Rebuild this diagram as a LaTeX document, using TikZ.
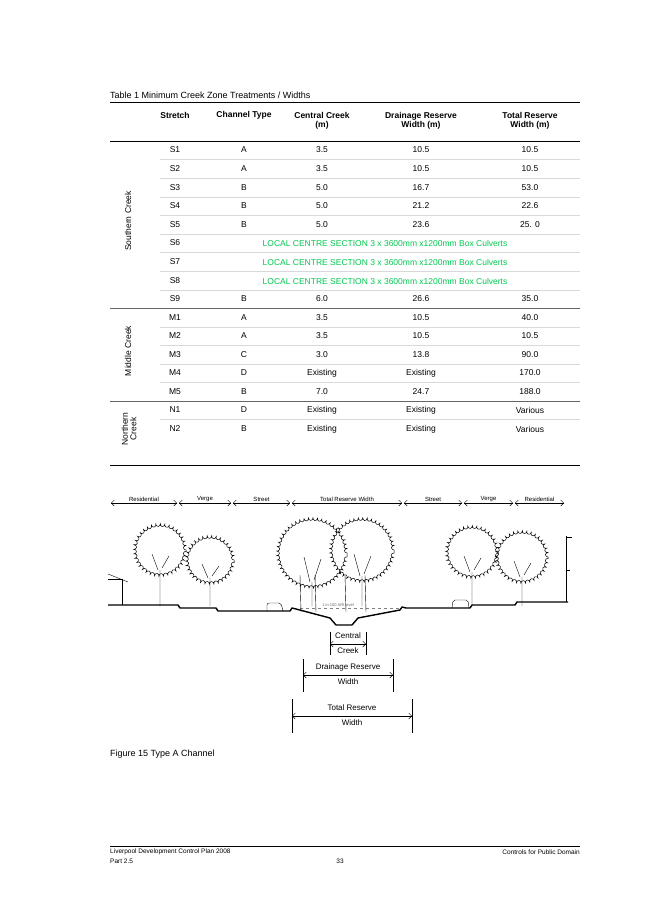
\documentclass[tikz,border=0pt]{standalone}
\usepackage{fontspec}
\setmainfont{Liberation Sans}
\usetikzlibrary{arrows.meta,decorations.pathmorphing,backgrounds}
\definecolor{culvert}{RGB}{0,200,80}
\tikzset{
  cell/.style={font=\fontsize{8.5}{9.5}\selectfont, inner sep=0pt},
  head/.style={font=\bfseries\fontsize{8.5}{9.5}\selectfont, align=center, inner sep=0pt},
  dim/.style={{Straight Barb[length=3pt]}-{Straight Barb[length=3pt]}, thin},
  dimtext/.style={font=\fontsize{6}{7}\selectfont, inner sep=0pt},
  tree/.style={decorate, decoration={bumps, segment length=9pt, amplitude=2.5pt}, line width=0.5pt}
}
\begin{document}
\begin{tikzpicture}[x=1pt,y=-1pt]
    % white background
    \begin{scope}[on background layer]
        \fill [white] (0,0) rectangle (653,924);
    \end{scope}
    \useasboundingbox (0,0) rectangle (653,924);

    % caption and header
    \node[cell, anchor=west, font=\fontsize{9}{10}\selectfont] (cap) at (110,95) {Table 1 Minimum Creek Zone Treatments / Widths};
    \draw[thin] (110,102) -- (580,102);
    \node[head] (hs) at (175,115) {Stretch};
    \node[head] (hc) at (244,115) {Channel Type};
    \node[head] (hcc) at (322,121) {Central Creek\\(m)};
    \node[head] (hd) at (421,121) {Drainage Reserve\\Width (m)};
    \node[head] (ht) at (530,121) {Total Reserve\\Width (m)};
    \draw[thin] (110,141) -- (580,141);

    % rows
    \foreach \s/\c/\cc/\d/\t/\y in {S1/A/3.5/10.5/10.5/150, S2/A/3.5/10.5/10.5/169,
        S3/B/5.0/16.7/53.0/188, S4/B/5.0/21.2/22.6/206, S5/B/5.0/23.6/25. 0/225,
        S9/B/6.0/26.6/35.0/299, M1/A/3.5/10.5/40.0/318, M2/A/3.5/10.5/10.5/336,
        M3/C/3.0/13.8/90.0/355, M4/D/Existing/Existing/170.0/373, M5/B/7.0/24.7/188.0/392,
        N1/D/Existing/Existing/Various/410, N2/B/Existing/Existing/Various/429} {
        \node[cell] (r\s) at (175,\y) {\s};
        \node[cell] at (244,\y) {\c};
        \node[cell] at (322,\y) {\cc};
        \node[cell] at (421,\y) {\d};
        \node[cell] at (530,\y) {\t};
    }
    \foreach \s/\y in {S6/243, S7/262, S8/281} {
        \node[cell] (r\s) at (175,\y) {\s};
        \node[cell, text=culvert] at (385,\y) {LOCAL CENTRE SECTION 3 x 3600mm x1200mm Box Culverts};
    }

    % row rules
    \foreach \y in {159.5,178.5,197,215.5,234,252.5,271.5,290,327,345.5,364,382.5,419.5} {
        \draw[black!15, very thin] (160,\y) -- (580,\y);
    }
    \draw[black!60, thin] (110,308) -- (580,308);
    \draw[black!60, thin] (110,401) -- (580,401);
    \draw[thin] (110,465) -- (580,465);

    % group labels
    \node[cell, rotate=90] (gs) at (128,221) {Southern Creek};
    \node[cell, rotate=90] (gm) at (128,351) {Middle Creek};
    \node[cell, rotate=90, align=center, font=\fontsize{8.5}{8.5}\selectfont] (gn) at (129,429) {Northern\\Creek};

    % top dimensions
    \foreach \a/\b/\lab in {110/178/Residential, 178/232/Verge, 232/291/Street, 291/403/Total Reserve Width,
        403/463/Street, 463/514/Verge, 514/565/Residential} {
        \coordinate (da\a) at (\a+1,503);
        \coordinate (db\a) at (\b-1,503);
        \draw[dim] (da\a) -- (db\a);
        \node[dimtext, fill=white, inner xsep=1pt] at (\a/2+\b/2,499) {\lab};
    }

    % ground
    \draw[line width=1.4pt, line join=round] (108,605) -- (178,605) -- (180,608) -- (216,608) -- (218,611)
        -- (290,611) -- (292,608) -- (296,609) -- (330,618) -- (336,625) -- (352,625) -- (358,618)
        -- (400,610) -- (402,607) -- (406,608) -- (470,608) -- (472,605) -- (515,605) -- (517,602) -- (568,602);
    \draw[black!50, dashed, very thin] (300,608) -- (400,608);
    \node[font=\fontsize{4}{4}\selectfont, text=black!60] at (338,605) {1 in 100 ARI level};

    % houses
    \draw[line width=1pt] (122,605) -- (122,579) -- (108,579);
    \draw[thin] (108,574) -- (128,582);
    \draw[line width=1pt] (566,602) -- (566,536);
    \draw[line width=1pt] (566,570) -- (570,570) (566,537) -- (572,537);

    % trees
    \foreach \x/\y/\r in {160/550/26, 210/560/24, 312/553/35, 362/550/32, 472/552/26, 522/557/26} {
        \draw[tree] (\x+\r,\y) arc[start angle=0, end angle=-360, radius=\r];
        \draw[thin] (\x,\y+\r-6) -- (\x,606) (\x-2,\y+\r-6) -- (\x-8,\y+4) (\x+2,\y+\r-8) -- (\x+9,\y+6);
    }
    \foreach \x in {300,315,345,365} {
        \draw[thin] (\x,575) -- (\x+1,612);
    }

    % cars
    \draw[thin, rounded corners=2pt] (267,611) -- (267,603) -- (281,603) -- (283,611);
    \draw[thin, rounded corners=2pt] (452,608) -- (453,600) -- (468,600) -- (469,608);

    % bottom dimensions
    \foreach \n/\a/\b/\ya/\yb/\ym/\la/\lb in {cc/330/366/632/655/644/Central/Creek,
        dr/303/393/659/692/675/Drainage Reserve/Width, tr/292/412/699/733/716/Total Reserve/Width} {
        \coordinate (\n l) at (\a,\ym);
        \coordinate (\n r) at (\b,\ym);
        \draw[thin] (\a,\ya) -- (\a,\yb) (\b,\ya) -- (\b,\yb);
        \draw[dim] (\n l) -- (\n r);
        \node[cell, font=\fontsize{8}{9}\selectfont] at (\a/2+\b/2,\ym-8) {\la};
        \node[cell, font=\fontsize{8}{9}\selectfont] at (\a/2+\b/2,\ym+7) {\lb};
    }

    % figure caption and footer
    \node[cell, anchor=west, font=\fontsize{9}{10}\selectfont] (fig) at (110,754) {Figure 15 Type A Channel};
    \draw[thin] (110,846) -- (580,846);
    \node[cell, anchor=west, font=\fontsize{6.5}{7}\selectfont] (f1) at (110,852) {Liverpool Development Control Plan 2008};
    \node[cell, anchor=west, font=\fontsize{6.5}{7}\selectfont] (f2) at (110,861) {Part 2.5};
    \node[cell, font=\fontsize{6.5}{7}\selectfont] (pg) at (340,861) {33};
    \node[cell, anchor=east, font=\fontsize{6.5}{7}\selectfont] (f3) at (580,852) {Controls for Public Domain};
\end{tikzpicture}
\end{document}
